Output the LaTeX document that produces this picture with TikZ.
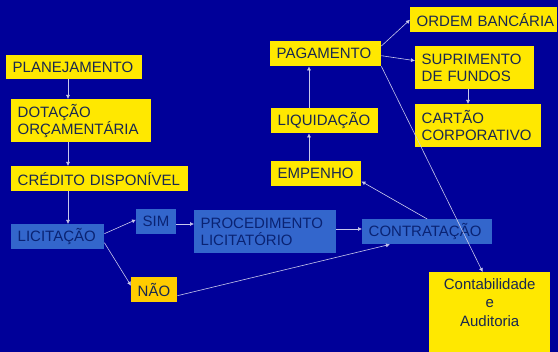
\documentclass[tikz,border=0pt]{standalone}
\usepackage{fontspec}
\setmainfont{Liberation Sans}
\usetikzlibrary{arrows.meta,calc}
\definecolor{bg}{RGB}{0,0,153}
\definecolor{ylw}{RGB}{255,232,0}
\definecolor{gold}{RGB}{255,204,0}
\definecolor{mblue}{RGB}{51,102,204}
\definecolor{ytxt}{RGB}{25,40,80}
\definecolor{btxt}{RGB}{10,35,115}
\definecolor{lnc}{RGB}{200,200,235}
\begin{document}
\begin{tikzpicture}[x=1pt,y=-1pt,
  base/.style={anchor=north west, inner xsep=6.5pt, inner ysep=0pt, align=left, font=\fontsize{15}{17}\selectfont},
  ybox/.style={base, fill=ylw, text=ytxt},
  bbox/.style={base, fill=mblue, text=btxt},
  sz/.style n args={3}{minimum width=#1pt, minimum height=#2pt, text width=#3pt},
  arr/.style={draw=lnc, line width=0.6pt, -{Latex[length=4pt,width=4pt]}}]
\fill[bg] (0,0) rectangle (558,352);
\useasboundingbox (0,0) rectangle (558,352);

\coordinate (colA) at (68,0);
\coordinate (colB) at (309,0);
\coordinate (colC) at (468,0);
\coordinate (rowA) at (0,224);
\coordinate (rowB) at (0,229);

\node[ybox, sz={136}{24}{123}] (plan) at (6,55) {PLANEJAMENTO};
\node[ybox, sz={140}{43}{127}] (dot) at (11,99) {DOTAÇÃO\\ORÇAMENTÁRIA};
\node[ybox, sz={177}{25}{164}] (cred) at (11,166) {CRÉDITO~DISPONÍVEL};
\node[bbox, sz={93}{25}{80}] (lic) at (11,224) {LICITAÇÃO};
\node[bbox, sz={40}{25}{27}] (sim) at (136,209) {SIM};
\node[bbox, sz={142}{43}{129}] (proc) at (194,210) {PROCEDIMENTO\\LICITATÓRIO};
\node[ybox, fill=gold, sz={46}{25}{33}] (nao) at (131,277) {NÃO};
\node[bbox, sz={130}{25}{117}] (contr) at (362,219) {CONTRATAÇÃO};
\node[ybox, sz={90}{25}{77}] (emp) at (271,161) {EMPENHO};
\node[ybox, sz={107}{25}{94}] (liq) at (271,108) {LIQUIDAÇÃO};
\node[ybox, sz={111}{25}{98}] (pag) at (270,41) {PAGAMENTO};
\node[ybox, sz={147}{25}{134}] (ord) at (410,7) {ORDEM~BANCÁRIA};
\node[ybox, sz={119}{43}{106}] (sup) at (415,46) {SUPRIMENTO\\DE~FUNDOS};
\node[ybox, sz={126}{43}{113}] (cart) at (415,104) {CARTÃO\\CORPORATIVO};
\node[ybox, inner xsep=6.5pt, inner ysep=6pt, minimum width=121pt, minimum height=80pt, align=center] (cont) at (429,272)
  {\parbox[c][68pt][t]{108pt}{\centering\fontsize{15}{18.5}\selectfont Contabilidade\\e\\Auditoria}};

\draw[arr] (plan.south -| colA) -- (dot.north -| colA);
\draw[arr] (dot.south -| colA) -- (cred.north -| colA);
\draw[arr] (cred.south -| colA) -- (lic.north -| colA);
\draw[arr] ([yshift=3pt]lic.east) -- ([yshift=2pt]sim.west);
\draw[arr] ([yshift=-6pt]lic.east) -- ([yshift=4pt]nao.west);
\draw[arr] (sim.east |- rowA) -- (proc.west |- rowA);
\draw[arr] (proc.east |- rowB) -- (contr.west |- rowB);
\draw[arr] ([yshift=-6pt]nao.east) -- ([xshift=28pt]contr.south west);
\draw[arr] (contr.north) -- ([yshift=5pt]emp.south east);
\draw[arr] (emp.north -| colB) -- (liq.south -| colB);
\draw[arr] (liq.north -| colB) -- (pag.south -| colB);
\draw[arr] ([yshift=-5pt]pag.north east) -- (ord.west);
\draw[arr] ([yshift=-2pt]pag.east) -- ([yshift=7pt]sup.west);
\draw[arr] (sup.south -| colC) -- (cart.north -| colC);
\draw[arr] (pag.south east) -- ([xshift=-7pt]cont.north);
\end{tikzpicture}
\end{document}
